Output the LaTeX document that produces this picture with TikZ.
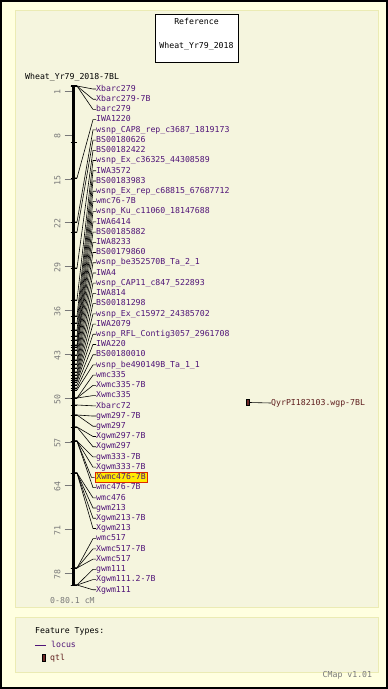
\documentclass[tikz,border=0pt]{standalone}
\usepackage{fontspec}
\newfontfamily\pix{DejaVu Sans Mono}
\definecolor{labc}{RGB}{80,20,120}
\definecolor{qtlc}{RGB}{95,30,30}
\definecolor{qtlf}{RGB}{110,40,40}
\definecolor{grayc}{RGB}{120,120,120}
\definecolor{outerbg}{RGB}{255,255,224}
\definecolor{panelbg}{RGB}{245,245,222}
\definecolor{panelln}{RGB}{235,235,180}
\definecolor{hlfill}{RGB}{255,236,0}
\definecolor{hlline}{RGB}{220,40,0}
\tikzset{
  txt/.style={font=\pix\fontsize{8.2pt}{9pt}\selectfont, inner sep=0pt, text height=6pt, text depth=1.5pt},
  lab/.style={txt, anchor=west, text=labc},
  hl/.style={fill=hlfill, draw=hlline, line width=0.8pt, inner xsep=1.5pt, inner ysep=1.5pt, xshift=-1.5pt},
  conn/.style={black, line width=0.6pt},
  bartick/.style={black, line width=0.9pt},
  gtick/.style={grayc, line width=0.9pt},
  scl/.style={txt, text=grayc, rotate=90},
  panel/.style={fill=panelbg, draw=panelln, line width=1pt}
}
\begin{document}
\begin{tikzpicture}[x=1pt,y=-1pt]
\useasboundingbox (0,0) rectangle (388,689);
% backgrounds
\fill[outerbg] (0,0) rectangle (388,689);
\draw[panel] (15,10) rectangle (378,607);
\draw[panel] (15,617) rectangle (378,672);
\draw[black, line width=1.6pt] (0.8,0.8) rectangle (387.2,688.2);
% reference box
\node[draw=black, fill=white, line width=0.8pt, minimum width=83pt, minimum height=48pt, inner sep=0pt] (refbox) at (196.5,38) {};
\node[txt] (reft) at (196.5,22.5) {Reference};
\node[txt] (refn) at (196.5,46) {Wheat\_Yr79\_2018};
% map title
\node[txt, anchor=west] (maptitle) at (25,77) {Wheat\_Yr79\_2018-7BL};
% chromosome bar
\coordinate (bartop) at (73.5,85);
\coordinate (barbot) at (73.5,585.5);
\draw[black, line width=2.2pt] (bartop) -- (barbot);
\draw[bartick] (70.5,85) -- (76.5,85);
\draw[bartick] (70.5,585.5) -- (76.5,585.5);
\draw[bartick] (70.5,142) -- (76.5,142);
% scale ticks
\foreach \v in {1,8,15,22,29,36,43,50,57,64,71,78}{
  \pgfmathsetmacro{\yy}{85.2+6.26*\v}
  \draw[gtick] (64.5,\yy) -- (72.3,\yy);
  \node[scl] (s\v) at (58,\yy+1) {\v};
}
\node[txt, text=grayc, anchor=west] (range) at (50,601) {0-80.1 cM};
% loci
\foreach \t/\yb [count=\i] in {
Xbarc279/86, Xbarc279-7B/86, barc279/86, IWA1220/178,
wsnp\_CAP8\_rep\_c3687\_1819173/222, BS00180626/232, BS00182422/268,
wsnp\_Ex\_c36325\_44308589/300, IWA3572/316, BS00183983/323,
wsnp\_Ex\_rep\_c68815\_67687712/330, wmc76-7B/336, wsnp\_Ku\_c11060\_18147688/340,
IWA6414/345, BS00185882/347, IWA8233/350, BS00179860/355,
wsnp\_be352570B\_Ta\_2\_1/360, IWA4/364, wsnp\_CAP11\_c847\_522893/368,
IWA814/372, BS00181298/375, wsnp\_Ex\_c15972\_24385702/378, IWA2079/380,
wsnp\_RFL\_Contig3057\_2961708/382, IWA220/385, BS00180010/388,
wsnp\_be490149B\_Ta\_1\_1/390, wmc335/398, Xwmc335-7B/398, Xwmc335/398,
Xbarc72/405, gwm297-7B/415, gwm297/415, Xgwm297-7B/427, Xgwm297/427,
gwm333-7B/441, Xgwm333-7B/441, Xwmc476-7B/441, wmc476-7B/441,
wmc476/473, gwm213/473, Xgwm213-7B/473, Xgwm213/473,
wmc517/568, Xwmc517-7B/568, Xwmc517/568,
gwm111/585, Xgwm111.2-7B/585, Xgwm111/585}{
  \ifnum\i=39 \def\hs{hl}\else\def\hs{}\fi
  \node[lab,\hs] (l\i) at (96,{89+(\i-1)*10.22}) {\t};
  \coordinate (b\i) at (74.5,\yb);
  \draw[bartick] (70.5,\yb) -- (76.5,\yb);
  \draw[conn] (b\i) -- ++(2.5,0) -- ([xshift=-3pt]l\i.west) -- (l\i.west);
}
% QTL
\node[draw=black, fill=qtlf, line width=0.6pt, minimum width=3pt, minimum height=6.5pt, inner sep=0pt] (qbox) at (248,402.5) {};
\node[txt, anchor=west, text=qtlc] (qlab) at (271,403) {QyrPI182103.wgp-7BL};
\draw[conn] (qbox.east) -- (qlab.west);
% legend
\node[txt, anchor=west] (ft) at (35,631) {Feature Types:};
\coordinate (lg1) at (35,645.5);
\coordinate (lg2) at (46,645.5);
\draw[labc, line width=0.8pt] (lg1) -- (lg2);
\node[txt, anchor=west, text=labc] (lgl) at (51,645) {locus};
\node[draw=black, fill=qtlf, line width=0.6pt, minimum width=3pt, minimum height=7pt, inner sep=0pt] (lgq) at (44,658) {};
\node[txt, anchor=west, text=qtlc] (lgqt) at (50,658) {qtl};
\node[txt, anchor=west, text=grayc] (cmap) at (322.5,675.5) {CMap v1.01};
\end{tikzpicture}
\end{document}
